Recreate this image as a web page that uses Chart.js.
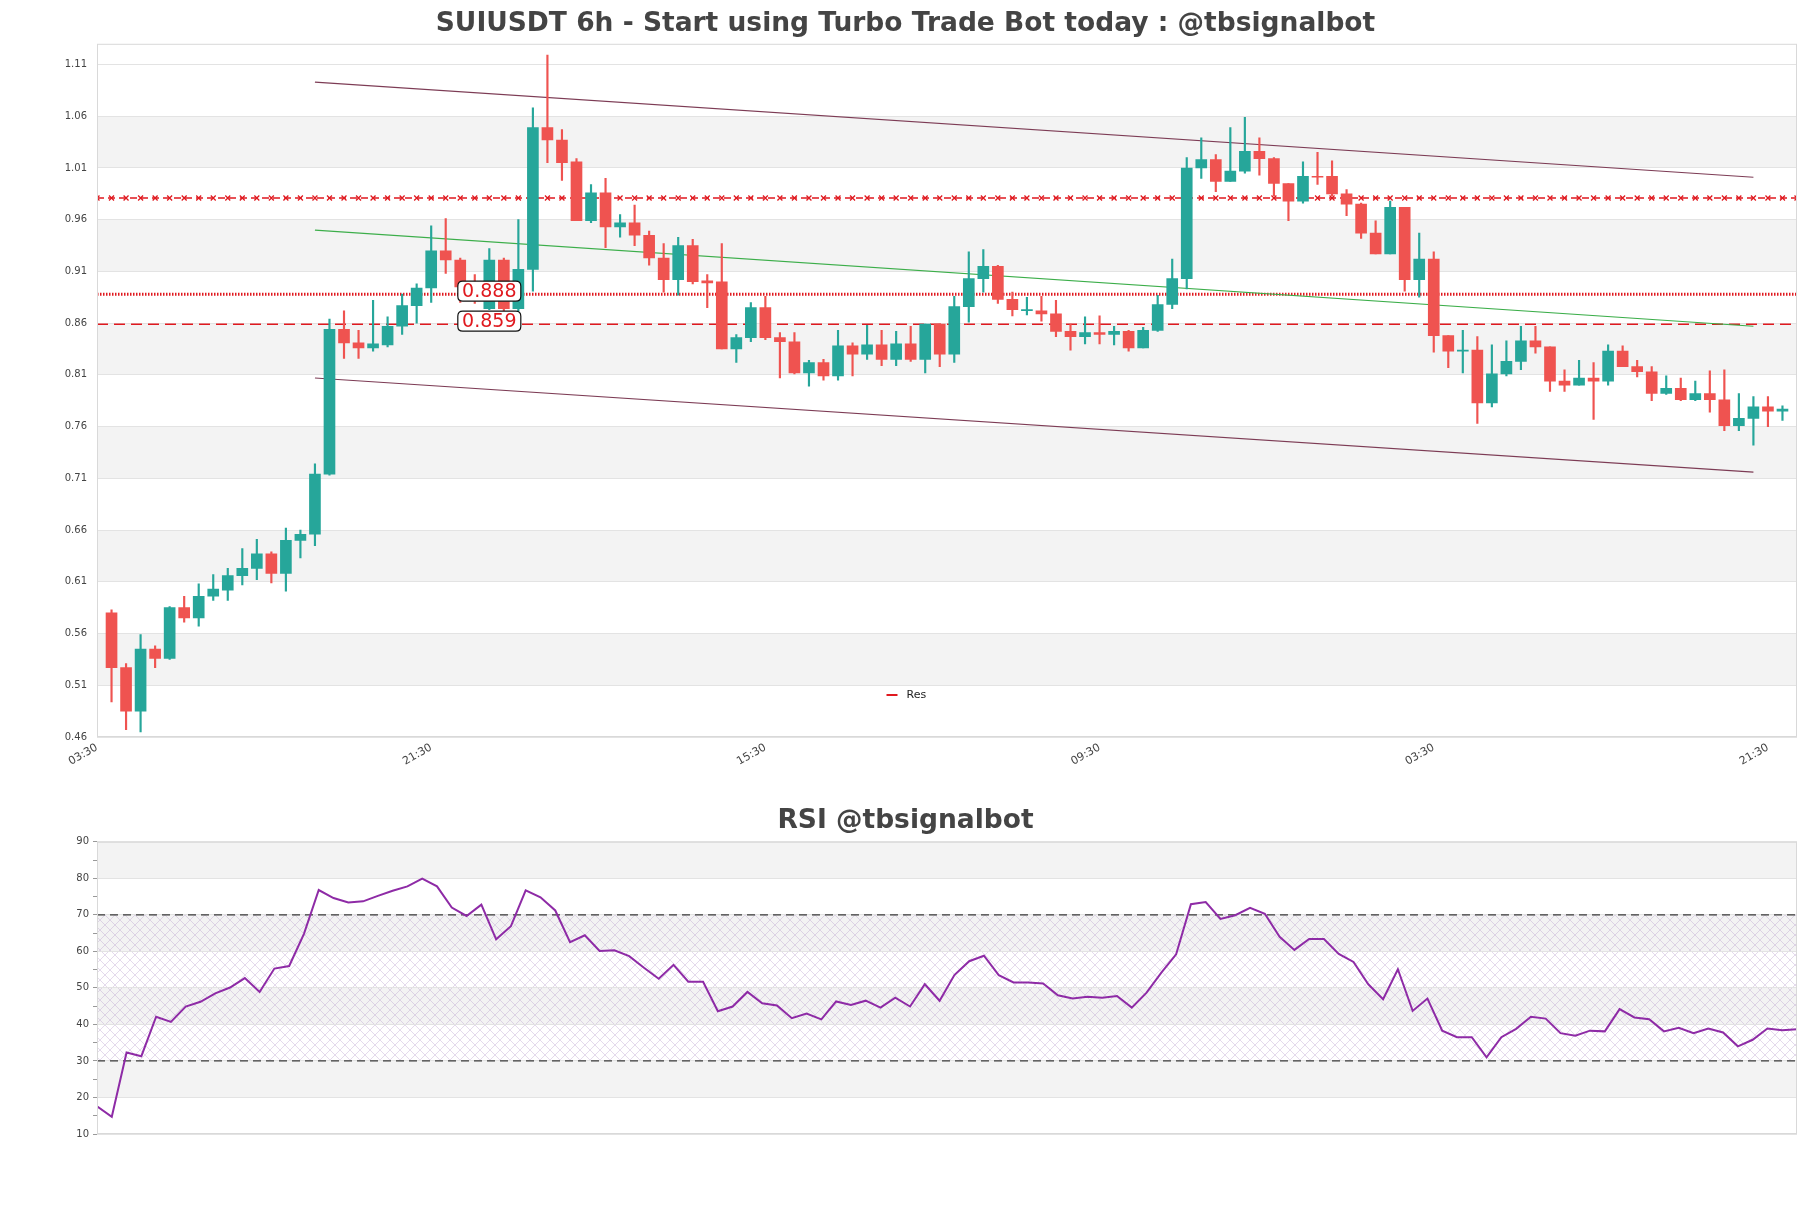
<!DOCTYPE html>
<html>
<head>
<meta charset="utf-8">
<script src="https://cdn.jsdelivr.net/npm/chart.js@4.4.0/dist/chart.umd.min.js"></script>
<style>
  html, body { margin: 0; padding: 0; background: #fff; }
  #wrap { position: relative; width: 1811px; height: 1208px; }
  #main { position: absolute; left: 0; top: 0; }
  #rsi { position: absolute; left: 0; top: 780px; }
</style>
</head>
<body>
<div id="wrap">
  <canvas id="main" width="1811" height="780"></canvas>
  <canvas id="rsi" width="1811" height="428"></canvas>
</div>
<script>
// ---- data ----
const xTickPos = [-1, 22, 45, 68, 91, 114];
const xTickLabels = ['03:30', '21:30', '15:30', '09:30', '03:30', '21:30'];
const yTicks = [0.46, 0.51, 0.56, 0.61, 0.66, 0.71, 0.76, 0.81, 0.86, 0.91, 0.96, 1.01, 1.06, 1.11];

const opens = [
  0.580, 0.527, 0.485, 0.545, 0.536, 0.585, 0.575, 0.596, 0.602, 0.616,
  0.623, 0.637, 0.618, 0.650, 0.656, 0.714, 0.854, 0.841, 0.836, 0.839,
  0.857, 0.877, 0.894, 0.930, 0.921, 0.895, 0.874, 0.921, 0.874, 0.912,
  1.049, 1.037, 1.016, 0.959, 0.986, 0.953, 0.957, 0.945, 0.923, 0.902,
  0.935, 0.901, 0.900, 0.835, 0.846, 0.875, 0.846, 0.842, 0.812, 0.822,
  0.809, 0.838, 0.830, 0.839, 0.825, 0.840, 0.825, 0.859, 0.830, 0.876,
  0.903, 0.915, 0.883, 0.872, 0.872, 0.869, 0.852, 0.847, 0.851, 0.849,
  0.852, 0.836, 0.853, 0.878, 0.903, 1.010, 1.018, 0.997, 1.007, 1.026,
  1.019, 0.995, 0.978, 1.002, 1.002, 0.985, 0.975, 0.947, 0.927, 0.972,
  0.902, 0.922, 0.848, 0.833, 0.834, 0.783, 0.811, 0.823, 0.843, 0.837,
  0.804, 0.800, 0.807, 0.804, 0.833, 0.818, 0.813, 0.792, 0.797, 0.786,
  0.792, 0.786, 0.761, 0.768, 0.779, 0.775
];
const highs = [
  0.583, 0.531, 0.559, 0.548, 0.586, 0.596, 0.608, 0.617, 0.623, 0.642,
  0.651, 0.639, 0.662, 0.660, 0.724, 0.864, 0.872, 0.853, 0.882, 0.866,
  0.888, 0.898, 0.954, 0.961, 0.923, 0.907, 0.932, 0.923, 0.960, 1.068,
  1.119, 1.047, 1.019, 0.994, 1.000, 0.965, 0.974, 0.949, 0.937, 0.943,
  0.941, 0.907, 0.937, 0.849, 0.880, 0.886, 0.851, 0.851, 0.824, 0.825,
  0.853, 0.841, 0.858, 0.853, 0.852, 0.857, 0.859, 0.859, 0.886, 0.929,
  0.931, 0.916, 0.890, 0.885, 0.886, 0.882, 0.859, 0.866, 0.867, 0.857,
  0.853, 0.856, 0.887, 0.922, 1.020, 1.039, 1.023, 1.049, 1.059, 1.039,
  1.020, 0.995, 1.016, 1.025, 1.017, 0.989, 0.976, 0.959, 0.978, 0.972,
  0.947, 0.929, 0.848, 0.853, 0.847, 0.839, 0.843, 0.857, 0.857, 0.837,
  0.815, 0.824, 0.822, 0.839, 0.838, 0.824, 0.818, 0.809, 0.807, 0.804,
  0.814, 0.815, 0.792, 0.789, 0.789, 0.780
];
const lows = [
  0.494, 0.467, 0.465, 0.527, 0.535, 0.571, 0.567, 0.592, 0.592, 0.607,
  0.612, 0.609, 0.601, 0.633, 0.645, 0.713, 0.826, 0.826, 0.833, 0.837,
  0.849, 0.860, 0.880, 0.908, 0.880, 0.879, 0.873, 0.872, 0.872, 0.891,
  1.015, 0.998, 0.959, 0.957, 0.933, 0.943, 0.935, 0.916, 0.890, 0.887,
  0.898, 0.875, 0.835, 0.822, 0.842, 0.844, 0.807, 0.811, 0.799, 0.805,
  0.805, 0.809, 0.825, 0.819, 0.819, 0.823, 0.812, 0.818, 0.822, 0.861,
  0.890, 0.879, 0.867, 0.868, 0.862, 0.847, 0.834, 0.840, 0.840, 0.839,
  0.833, 0.836, 0.852, 0.874, 0.893, 1.000, 0.987, 0.997, 1.005, 1.003,
  0.983, 0.959, 0.976, 0.994, 0.983, 0.964, 0.942, 0.927, 0.927, 0.891,
  0.885, 0.832, 0.817, 0.812, 0.763, 0.779, 0.809, 0.815, 0.831, 0.794,
  0.794, 0.800, 0.767, 0.800, 0.818, 0.808, 0.785, 0.791, 0.785, 0.785,
  0.774, 0.756, 0.756, 0.742, 0.760, 0.766
];
const closes = [
  0.527, 0.485, 0.545, 0.536, 0.585, 0.575, 0.596, 0.603, 0.616, 0.623,
  0.637, 0.618, 0.650, 0.656, 0.714, 0.854, 0.841, 0.836, 0.840, 0.857,
  0.877, 0.894, 0.930, 0.921, 0.895, 0.885, 0.921, 0.874, 0.912, 1.049,
  1.037, 1.015, 0.959, 0.986, 0.953, 0.957, 0.945, 0.923, 0.902, 0.935,
  0.900, 0.899, 0.835, 0.846, 0.875, 0.846, 0.842, 0.812, 0.822, 0.809,
  0.838, 0.830, 0.839, 0.825, 0.840, 0.825, 0.859, 0.830, 0.876, 0.903,
  0.915, 0.883, 0.873, 0.873, 0.869, 0.852, 0.847, 0.851, 0.849, 0.852,
  0.836, 0.853, 0.878, 0.903, 1.010, 1.018, 0.997, 1.007, 1.026, 1.019,
  0.995, 0.978, 1.002, 1.001, 0.985, 0.975, 0.947, 0.927, 0.972, 0.902,
  0.922, 0.848, 0.833, 0.834, 0.783, 0.811, 0.823, 0.843, 0.837, 0.804,
  0.800, 0.807, 0.804, 0.833, 0.818, 0.813, 0.792, 0.797, 0.786, 0.792,
  0.786, 0.761, 0.768, 0.779, 0.775, 0.777
];

const resLevel = 0.981;
const levelPrices = [0.888, 0.859];
const upperChannel = [[14, 1.093], [113, 1.001]];
const lowerChannel = [[14, 0.807], [113, 0.716]];
const midTrend = [[14, 0.950], [113, 0.857]];

const rsiTicks = [10, 20, 30, 40, 50, 60, 70, 80, 90];
const rsiLevels = [70, 30];
const rsiValues = [
  17.6, 14.7, 32.3, 31.3, 42.1, 40.7, 44.9, 46.2, 48.5, 50.1,
  52.7, 48.9, 55.3, 56.0, 64.8, 76.8, 74.6, 73.4, 73.7, 75.2,
  76.6, 77.8, 79.9, 77.8, 72.0, 69.7, 72.8, 63.3, 66.9, 76.7,
  74.8, 71.2, 62.5, 64.4, 60.1, 60.3, 58.7, 55.5, 52.5, 56.3,
  51.7, 51.7, 43.6, 44.9, 48.9, 45.8, 45.2, 41.7, 43.0, 41.4,
  46.3, 45.3, 46.5, 44.6, 47.3, 44.9, 51.0, 46.5, 53.5, 57.3,
  58.8, 53.5, 51.5, 51.5, 51.2, 48.0, 47.1, 47.6, 47.3, 47.8,
  44.6, 48.7, 54.2, 59.2, 72.9, 73.5, 68.9, 69.9, 71.9, 70.3,
  64.0, 60.4, 63.4, 63.4, 59.3, 57.1, 51.0, 46.9, 55.1, 43.7,
  47.1, 38.3, 36.5, 36.5, 31.0, 36.5, 38.8, 42.1, 41.6, 37.6,
  36.9, 38.3, 38.1, 44.2, 41.9, 41.4, 38.1, 39.1, 37.6, 38.9,
  37.8, 34.0, 35.8, 38.9, 38.4, 38.7
];

// ---- shared look ----
Chart.defaults.font.family = '"DejaVu Sans", sans-serif';
Chart.defaults.color = '#444';
Chart.defaults.animation = false;

const UP = '#26a69a';
const DOWN = '#ef5350';
const RED = '#e0191f';
const BAND = '#f3f3f3';
const FRAME = '#d9d9d9';

function drawBands(chart, ticks) {
  const { ctx, chartArea: a, scales: { y } } = chart;
  ctx.save();
  ctx.fillStyle = BAND;
  for (let i = 1; i < ticks.length - 1; i += 2) {
    const top = y.getPixelForValue(ticks[i + 1]);
    const bot = y.getPixelForValue(ticks[i]);
    ctx.fillRect(a.left, top, a.right - a.left, bot - top);
  }
  ctx.restore();
}

function drawFrame(chart) {
  const { ctx, chartArea: a } = chart;
  ctx.save();
  ctx.strokeStyle = FRAME;
  ctx.lineWidth = 1;
  ctx.strokeRect(a.left + 0.5, a.top + 0.5, a.right - a.left - 1, a.bottom - a.top - 1);
  ctx.restore();
}

function roundBox(ctx, x, y, w, h, r) {
  ctx.beginPath();
  ctx.moveTo(x + r, y);
  ctx.lineTo(x + w - r, y);
  ctx.quadraticCurveTo(x + w, y, x + w, y + r);
  ctx.lineTo(x + w, y + h - r);
  ctx.quadraticCurveTo(x + w, y + h, x + w - r, y + h);
  ctx.lineTo(x + r, y + h);
  ctx.quadraticCurveTo(x, y + h, x, y + h - r);
  ctx.lineTo(x, y + r);
  ctx.quadraticCurveTo(x, y, x + r, y);
  ctx.closePath();
}

// ---- main candlestick chart ----
const idx = opens.map((_, i) => i);
const candleColor = idx.map(i => closes[i] >= opens[i] ? UP : DOWN);
const span = [];
for (let x = -1; x <= 116; x++) span.push(x);

const flatLine = (label, value, extra) => Object.assign({
  type: 'line', label,
  data: span.map(x => ({ x, y: value })),
  borderColor: RED, borderWidth: 1.5, pointRadius: 0, order: 4
}, extra);

const trendLine = (label, pts, color) => ({
  type: 'line', label,
  data: pts.map(p => ({ x: p[0], y: p[1] })),
  borderColor: color, borderWidth: 1.2, pointRadius: 0, order: 3
});

const mainDecor = {
  id: 'mainDecor',
  beforeDraw(chart) { drawBands(chart, yTicks); },
  afterDraw(chart) {
    const { ctx, chartArea: a, scales: { x, y } } = chart;
    drawFrame(chart);

    // price labels on the support lines
    ctx.save();
    ctx.font = '19px "DejaVu Sans"';
    ctx.textAlign = 'center';
    ctx.textBaseline = 'middle';
    levelPrices.forEach(p => {
      const cx = x.getPixelForValue(26);
      const cy = y.getPixelForValue(p) - 3;
      roundBox(ctx, cx - 31.5, cy - 10, 63, 20, 5);
      ctx.fillStyle = '#fff';
      ctx.fill();
      ctx.strokeStyle = '#111';
      ctx.lineWidth = 1.2;
      ctx.stroke();
      ctx.fillStyle = RED;
      ctx.fillText(p.toFixed(3), cx, cy + 1);
    });

    // legend
    const lx = chart.width / 2;
    const ly = a.bottom - 42;
    ctx.strokeStyle = RED;
    ctx.lineWidth = 2;
    ctx.beginPath();
    ctx.moveTo(lx - 19, ly);
    ctx.lineTo(lx - 8, ly);
    ctx.stroke();
    ctx.font = '11px "DejaVu Sans"';
    ctx.fillStyle = '#222';
    ctx.textAlign = 'left';
    ctx.fillText('Res', lx + 1, ly);
    ctx.restore();
  }
};

new Chart(document.getElementById('main'), {
  type: 'bar',
  data: {
    datasets: [
      {
        label: 'wick',
        data: idx.map(i => ({ x: i, y: [lows[i], highs[i]] })),
        backgroundColor: candleColor,
        barThickness: 1.5, grouped: false, borderWidth: 0, order: 1
      },
      {
        label: 'body',
        data: idx.map(i => ({ x: i, y: [Math.min(opens[i], closes[i]), Math.max(opens[i], closes[i])] })),
        backgroundColor: candleColor,
        barThickness: 11, grouped: false, borderWidth: 0, order: 0
      },
      flatLine('Res', resLevel, {
        borderDash: [7, 4], pointStyle: 'crossRot', pointRadius: 3.5,
        pointBorderColor: RED, pointBorderWidth: 1.3, pointBackgroundColor: RED
      }),
      flatLine('sup1', levelPrices[0], { borderDash: [1.5, 1.5], borderWidth: 3 }),
      flatLine('sup2', levelPrices[1], { borderDash: [11, 6], borderWidth: 1.4 }),
      trendLine('upper', upperChannel, '#7d3c55'),
      trendLine('lower', lowerChannel, '#7d3c55'),
      trendLine('mid', midTrend, '#3cae4a')
    ]
  },
  options: {
    responsive: false,
    animation: false,
    layout: { padding: { top: 8, right: 14, left: 14, bottom: 0 } },
    plugins: {
      legend: { display: false },
      tooltip: { enabled: false },
      title: {
        display: true,
        text: 'SUIUSDT 6h - Start using Turbo Trade Bot today : @tbsignalbot',
        color: '#444',
        font: { size: 26.5, weight: 'bold' },
        lineHeight: 1.1,
        padding: { top: 0, bottom: 4 }
      }
    },
    scales: {
      x: {
        type: 'linear', min: -1, max: 116, offset: false,
        grid: { display: false, offset: false },
        border: { display: false },
        afterBuildTicks: s => { s.ticks = xTickPos.map(v => ({ value: v })); },
        afterFit: s => { s.height = 43; },
        ticks: {
          autoSkip: false, minRotation: 30, maxRotation: 30, padding: -4,
          font: { size: 11 }, color: '#444',
          callback: (v, i) => xTickLabels[i]
        }
      },
      y: {
        type: 'linear', min: 0.46, max: 1.13,
        afterBuildTicks: s => { s.ticks = yTicks.map(v => ({ value: v })); },
        afterFit: s => { s.width = 83; },
        grid: { color: '#e3e3e3', drawTicks: false },
        border: { display: false },
        ticks: { padding: 10, font: { size: 10 }, color: '#444', callback: v => v.toFixed(2) }
      }
    }
  },
  plugins: [mainDecor]
});

// ---- RSI chart ----
function makeHatch() {
  const c = document.createElement('canvas');
  c.width = 10; c.height = 10;
  const g = c.getContext('2d');
  g.strokeStyle = 'rgba(170, 140, 195, 0.4)';
  g.lineWidth = 0.8;
  g.beginPath();
  g.moveTo(0, 0); g.lineTo(10, 10);
  g.moveTo(10, 0); g.lineTo(0, 10);
  g.stroke();
  return g.createPattern(c, 'repeat');
}

const rsiDecor = {
  id: 'rsiDecor',
  beforeDraw(chart) {
    drawBands(chart, rsiTicks);
    const { ctx, chartArea: a, scales: { y } } = chart;
    const top = y.getPixelForValue(rsiLevels[0]);
    const bot = y.getPixelForValue(rsiLevels[1]);
    ctx.save();
    ctx.fillStyle = makeHatch();
    ctx.fillRect(a.left, top, a.right - a.left, bot - top);
    ctx.restore();
  },
  afterDraw(chart) { drawFrame(chart); }
};

const rsiSpan = rsiValues.map((_, i) => i);

new Chart(document.getElementById('rsi'), {
  type: 'line',
  data: {
    datasets: [
      {
        label: 'RSI',
        data: rsiValues.map((v, i) => ({ x: i, y: v })),
        borderColor: '#8e2ba6', borderWidth: 2, pointRadius: 0, tension: 0, order: 0
      },
      ...rsiLevels.map(l => ({
        label: 'lvl' + l,
        data: [{ x: rsiSpan[0], y: l }, { x: rsiSpan[rsiSpan.length - 1], y: l }],
        borderColor: '#3a3a3a', borderWidth: 1.3, borderDash: [8, 5], pointRadius: 0, order: 1
      }))
    ]
  },
  options: {
    responsive: false,
    animation: false,
    layout: { padding: { top: 25, right: 14, left: 14, bottom: 74 } },
    plugins: {
      legend: { display: false },
      tooltip: { enabled: false },
      title: {
        display: true,
        text: 'RSI @tbsignalbot',
        color: '#444',
        font: { size: 26.5, weight: 'bold' },
        lineHeight: 1.1,
        padding: { top: 0, bottom: 5 }
      }
    },
    scales: {
      x: { type: 'linear', min: 0, max: rsiValues.length - 1, display: false },
      y: {
        min: 10, max: 90,
        afterFit: s => { s.width = 83; },
        border: { display: false },
        grid: {
          color: c => (c.tick && c.tick.value % 10 === 0) ? '#e3e3e3' : 'rgba(0,0,0,0)',
          tickColor: '#999', tickLength: 4, drawTicks: true
        },
        ticks: {
          stepSize: 5, padding: 4, font: { size: 10 }, color: '#444',
          callback: v => v % 10 === 0 ? v : ''
        }
      }
    }
  },
  plugins: [rsiDecor]
});
</script>
</body>
</html>
